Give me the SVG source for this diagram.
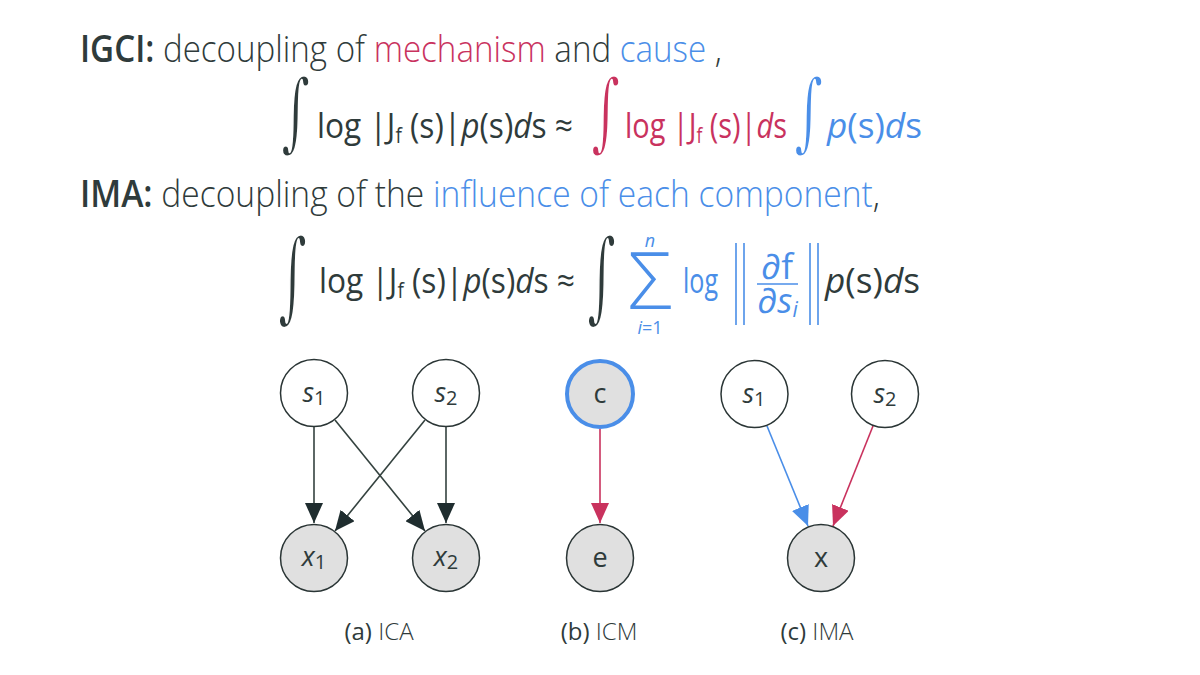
<svg xmlns="http://www.w3.org/2000/svg" width="1200" height="675" viewBox="0 0 1200 675">
<style>
.hd{font-family:"Open Sans","Liberation Sans",sans-serif;font-weight:300;font-size:37px;fill:#2f3b3b}
.b{font-weight:600}
.m{font-family:"Open Sans","Liberation Sans",sans-serif;font-size:35px;fill:#2f3b3b}
.int{font-family:"DejaVu Serif",serif;font-size:56px;fill:#2f3b3b;stroke:#ffffff;stroke-width:1.4}
.red{fill:#c9325e}
.blue{fill:#4a8ee8}
.it{font-style:italic}
.sub{font-size:21px}
.node{stroke:#2a3535;stroke-width:1.5}
.lbl{font-family:"Open Sans","Liberation Sans",sans-serif;font-size:27px;fill:#2f3b3b;text-anchor:middle}
.cap{font-family:"Open Sans","Liberation Sans",sans-serif;font-size:24px;fill:#2f3b3b;text-anchor:middle}
.edge{fill:none;stroke-width:1.6}
.bar{stroke:#4a8ee8;stroke-width:1.6}
</style>
<defs>
<marker id="ad" markerUnits="userSpaceOnUse" markerWidth="20" markerHeight="18" refX="20" refY="9" orient="auto"><path d="M0,0 L20,9 L0,18 Z" fill="#1f2d2f"/></marker>
<marker id="ar" markerUnits="userSpaceOnUse" markerWidth="20" markerHeight="18" refX="20" refY="9" orient="auto"><path d="M0,0 L20,9 L0,18 Z" fill="#c9325e"/></marker>
<marker id="ab" markerUnits="userSpaceOnUse" markerWidth="20" markerHeight="18" refX="20" refY="9" orient="auto"><path d="M0,0 L20,9 L0,18 Z" fill="#4a8ee8"/></marker>
</defs>
<rect width="1200" height="675" fill="#ffffff"/>

<g id="header1">
<text class="hd" x="80" y="62" textLength="642" lengthAdjust="spacingAndGlyphs"><tspan class="b">IGCI:</tspan> decoupling of <tspan class="red">mechanism</tspan> and <tspan class="blue">cause</tspan> ,</text>
</g>

<g id="formula1">
<text class="int" x="0" y="0" transform="translate(281,141) scale(1,1.55)">∫</text>
<text class="m" x="317" y="138" textLength="256" lengthAdjust="spacingAndGlyphs">log |J<tspan class="sub" dy="5">f</tspan><tspan dy="-5"> (s)|</tspan><tspan class="it">p</tspan>(s)<tspan class="it">d</tspan>s ≈</text>
<text class="int red" x="0" y="0" transform="translate(591,141) scale(1,1.55)">∫</text>
<text class="m red" x="625" y="138" textLength="162" lengthAdjust="spacingAndGlyphs">log |J<tspan class="sub" dy="5">f</tspan><tspan dy="-5"> (s)|</tspan><tspan class="it">d</tspan>s</text>
<text class="int blue" x="0" y="0" transform="translate(794,141) scale(1,1.55)">∫</text>
<text class="m blue" x="827" y="138" textLength="95" lengthAdjust="spacingAndGlyphs"><tspan class="it">p</tspan>(s)<tspan class="it">d</tspan>s</text>
</g>

<g id="header2">
<text class="hd" x="80" y="207" textLength="800" lengthAdjust="spacingAndGlyphs"><tspan class="b">IMA:</tspan> decoupling of the <tspan class="blue">influence of each component</tspan>,</text>
</g>

<g id="formula2">
<text class="int" x="0" y="0" transform="translate(278,310) scale(1,1.79)">∫</text>
<text class="m" x="319" y="293" textLength="256" lengthAdjust="spacingAndGlyphs">log |J<tspan class="sub" dy="5">f</tspan><tspan dy="-5"> (s)|</tspan><tspan class="it">p</tspan>(s)<tspan class="it">d</tspan>s ≈</text>
<text class="int" x="0" y="0" transform="translate(587,310) scale(1,1.79)">∫</text>
<text class="blue" x="650" y="309" font-family="Open Sans, Liberation Sans, sans-serif" font-weight="300" font-size="80" text-anchor="middle" textLength="44" lengthAdjust="spacingAndGlyphs">Σ</text>
<text class="blue it" x="650" y="247" font-family="Open Sans, Liberation Sans, sans-serif" font-size="18" text-anchor="middle">n</text>
<text class="blue" x="650" y="334" font-family="Open Sans, Liberation Sans, sans-serif" font-size="18" text-anchor="middle"><tspan class="it">i</tspan>=1</text>
<text class="m blue" x="683" y="293" textLength="35" lengthAdjust="spacingAndGlyphs">log</text>
<line class="bar" x1="736" y1="243" x2="736" y2="325"/>
<line class="bar" x1="744" y1="243" x2="744" y2="325"/>
<line class="bar" x1="757" y1="284" x2="798" y2="284"/>
<text class="m blue" x="777" y="279" text-anchor="middle">∂f</text>
<text class="m blue" x="757" y="313"><tspan class="it">∂s</tspan><tspan class="sub it" dy="4">i</tspan></text>
<line class="bar" x1="810" y1="243" x2="810" y2="325"/>
<line class="bar" x1="818" y1="243" x2="818" y2="325"/>
<text class="m" x="825" y="293" textLength="95" lengthAdjust="spacingAndGlyphs"><tspan class="it">p</tspan>(s)<tspan class="it">d</tspan>s</text>
</g>

<g id="connectors">
<line class="edge" stroke="#34423f" x1="314" y1="427" x2="314" y2="523" marker-end="url(#ad)"/>
<line class="edge" stroke="#34423f" x1="446" y1="427" x2="446" y2="523" marker-end="url(#ad)"/>
<line class="edge" stroke="#34423f" x1="335" y1="420" x2="425" y2="531" marker-end="url(#ad)"/>
<line class="edge" stroke="#34423f" x1="425" y1="420" x2="335" y2="531" marker-end="url(#ad)"/>
<line class="edge" stroke="#c9325e" x1="600" y1="429" x2="600" y2="523" marker-end="url(#ar)"/>
<line class="edge" stroke="#4a8ee8" x1="767" y1="426" x2="808" y2="526" marker-end="url(#ab)"/>
<line class="edge" stroke="#c9325e" x1="873" y1="426" x2="833" y2="526" marker-end="url(#ar)"/>
</g>

<g id="a_s1"><circle class="node" cx="314" cy="393" r="33.5" fill="#ffffff"/><text class="lbl" x="314" y="402"><tspan class="it">s</tspan><tspan font-size="20" dy="3">1</tspan></text></g>
<g id="a_s2"><circle class="node" cx="446" cy="393" r="33.5" fill="#ffffff"/><text class="lbl" x="446" y="402"><tspan class="it">s</tspan><tspan font-size="20" dy="3">2</tspan></text></g>
<g id="a_x1"><circle class="node" cx="314" cy="558" r="33.5" fill="#e0e0e0"/><text class="lbl" x="314" y="566"><tspan class="it">x</tspan><tspan font-size="20" dy="3">1</tspan></text></g>
<g id="a_x2"><circle class="node" cx="446" cy="558" r="33.5" fill="#e0e0e0"/><text class="lbl" x="446" y="566"><tspan class="it">x</tspan><tspan font-size="20" dy="3">2</tspan></text></g>

<g id="b_c"><circle cx="600" cy="394" r="33" fill="#e0e0e0" stroke="#4a8ee8" stroke-width="4"/><text class="lbl" x="600" y="403">c</text></g>
<g id="b_e"><circle class="node" cx="600" cy="558" r="33.5" fill="#e0e0e0"/><text class="lbl" x="600" y="567">e</text></g>

<g id="c_s1"><circle class="node" cx="754.5" cy="394" r="33.5" fill="#ffffff"/><text class="lbl" x="754" y="403"><tspan class="it">s</tspan><tspan font-size="20" dy="3">1</tspan></text></g>
<g id="c_s2"><circle class="node" cx="885" cy="394" r="33.5" fill="#ffffff"/><text class="lbl" x="885" y="403"><tspan class="it">s</tspan><tspan font-size="20" dy="3">2</tspan></text></g>
<g id="c_x"><circle class="node" cx="821" cy="558" r="33.5" fill="#e0e0e0"/><text class="lbl" x="821" y="567">x</text></g>

<g id="captions">
<text class="cap" x="379" y="640">(a) <tspan font-weight="300">ICA</tspan></text>
<text class="cap" x="599" y="640">(b) <tspan font-weight="300">ICM</tspan></text>
<text class="cap" x="817" y="640">(c) <tspan font-weight="300">IMA</tspan></text>
</g>
</svg>
